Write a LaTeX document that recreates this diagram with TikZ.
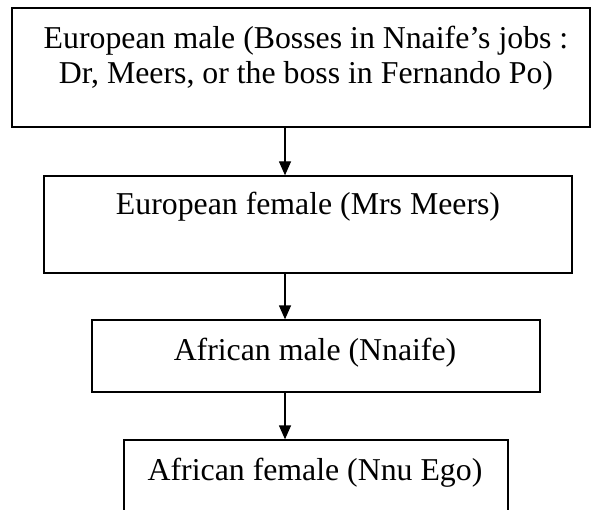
\documentclass[tikz,border=0pt]{standalone}
\usepackage{fontspec}
\setmainfont{Liberation Serif}
\usetikzlibrary{arrows.meta}

\tikzset{
  box/.style={draw=black, line width=1.3pt, rectangle, inner sep=0pt, minimum width=#1},
  topbox/.style={draw=black, line width=2pt, rectangle, inner sep=0pt},
  label/.style={inner sep=0pt, align=center, font=\fontsize{31.8}{35}\selectfont},
  flow/.style={line width=1.3pt, -{Triangle[length=14pt,width=12pt]}}
}

\begin{document}
\begin{tikzpicture}[x=1pt,y=-1pt]
  \useasboundingbox (0,0) rectangle (593,510);
  \clip (0,0) rectangle (593,510);

  % the four boxes of the hierarchy
  \node[topbox, minimum width=578pt, minimum height=119pt] (b1) at (301,67.5) {};
  \node[box=528pt, minimum height=97pt] (b2) at (308,224.5) {};
  \node[box=448pt, minimum height=72pt] (b3) at (316,356) {};
  \node[box=384pt, minimum height=110pt] (b4) at (316,495) {};

  % texts, set near the top of each box (base = baseline of the last line)
  \node[label, anchor=base] (t1) at (306,84) {European male (Bosses in Nnaife’s jobs :\\Dr, Meers, or the boss in Fernando Po)};
  \node[label, anchor=base] (t2) at (308,215) {European female (Mrs Meers)};
  \node[label, anchor=base] (t3) at (315,360) {African male (Nnaife)};
  \node[label, anchor=base] (t4) at (315,480) {African female (Nnu Ego)};

  % arrows run down a common vertical line
  \coordinate (ax) at (285,0);
  \draw[flow] (b1.south -| ax) -- (b2.north -| ax);
  \draw[flow] (b2.south -| ax) -- (b3.north -| ax);
  \draw[flow] (b3.south -| ax) -- (b4.north -| ax);
\end{tikzpicture}
\end{document}
